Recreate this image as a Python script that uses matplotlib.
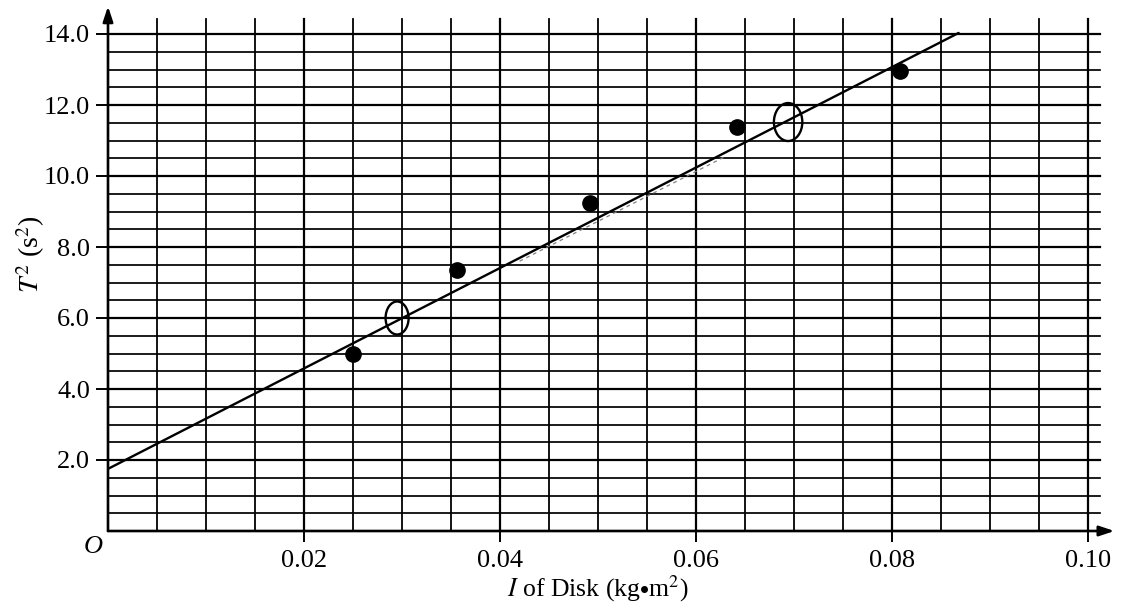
import matplotlib
matplotlib.use("Agg")
import matplotlib.pyplot as plt
from matplotlib.patches import Ellipse
import numpy as np

# ---- data ----
I_filled = [0.0250, 0.0356, 0.0492, 0.0642, 0.0808]
T2_filled = [5.00, 7.35, 9.24, 11.38, 12.96]
I_open = [0.0295, 0.0694]
T2_open = [6.00, 11.52]
fit_I = [0.0, 0.0868]
fit_T2 = [1.75, 14.03]
sketch_I = [0.042, 0.063]
sketch_T2 = [7.60, 10.55]
x_ticks = [0.02, 0.04, 0.06, 0.08, 0.10]
x_labels = ["0.02", "0.04", "0.06", "0.08", "0.10"]
y_ticks = [2.0, 4.0, 6.0, 8.0, 10.0, 12.0, 14.0]
y_labels = ["2.0", "4.0", "6.0", "8.0", "10.0", "12.0", "14.0"]

plt.rcParams['font.family'] = ['Liberation Serif', 'DejaVu Serif']
plt.rcParams['mathtext.fontset'] = 'stix'

W, H = 1123, 604
fig = plt.figure(figsize=(W / 100, H / 100), dpi=100)
x0_px, y0_px = 108, 531
px_per_x = 9800.0
px_per_y = 35.5
xmax, ymax = 0.1025, 14.75
ax = fig.add_axes([x0_px / W, (H - y0_px) / H,
                   xmax * px_per_x / W, ymax * px_per_y / H])
ax.set_xlim(0, xmax)
ax.set_ylim(0, ymax)
for s in ax.spines.values():
    s.set_visible(False)

# graph paper grid
gx = np.arange(1, 21) * 0.005
gy = np.arange(1, 29) * 0.5
for v in gx:
    major = abs(v / 0.02 - round(v / 0.02)) < 1e-6
    ax.plot([v, v], [0, 14.42], color='black', lw=1.6 if major else 1.3, zorder=1)
for v in gy:
    major = abs(v / 2 - round(v / 2)) < 1e-6
    ax.plot([0, 0.1012], [v, v], color='black', lw=1.6 if major else 1.25, zorder=1)

# axes with arrows
ax.annotate('', xy=(0.1027, 0), xytext=(0, 0),
            arrowprops=dict(arrowstyle='-|>,head_length=0.9,head_width=0.3',
                            color='black', lw=1.9, shrinkA=0, shrinkB=0),
            annotation_clip=False, zorder=3)
ax.annotate('', xy=(0, 14.78), xytext=(0, 0),
            arrowprops=dict(arrowstyle='-|>,head_length=0.9,head_width=0.3',
                            color='black', lw=1.9, shrinkA=0, shrinkB=0),
            annotation_clip=False, zorder=3)

ax.set_xticks(x_ticks)
ax.set_xticklabels(x_labels)
ax.set_yticks(y_ticks)
ax.set_yticklabels(y_labels)
ax.tick_params(axis='x', direction='out', length=8, width=1.4, pad=6, labelsize=19)
ax.tick_params(axis='y', direction='out', length=9, width=1.4, pad=4, labelsize=19)

# fit line
ax.plot(fit_I, fit_T2, color='black', lw=1.7, zorder=4, solid_capstyle='round')
ax.plot(sketch_I, sketch_T2, color='0.5', lw=0.9, ls=(0, (3, 3)), zorder=3)

# data
ax.plot(I_filled, T2_filled, 'o', color='black', markersize=11, zorder=5)
ell_w = [0.00235, 0.0029]
ell_h = [0.93, 1.07]
for xi, yi, w, h in zip(I_open, T2_open, ell_w, ell_h):
    ax.add_patch(Ellipse((xi, yi), w, h, fill=False, edgecolor='black', lw=1.7, zorder=5))

# labels
ax.text(-0.0015, -0.45, 'O', fontsize=19, style='italic', ha='center', va='center')
ax.text(0.05, -1.62, r'$I$ of Disk (kg$\bullet$m$^2$)', fontsize=18.5,
        ha='center', va='center')
ax.text(-0.0079, 7.8, r'$T^2$ (s$^2$)', fontsize=20, rotation=90,
        ha='center', va='center')

fig.savefig('out.png', dpi=100, facecolor='white')
